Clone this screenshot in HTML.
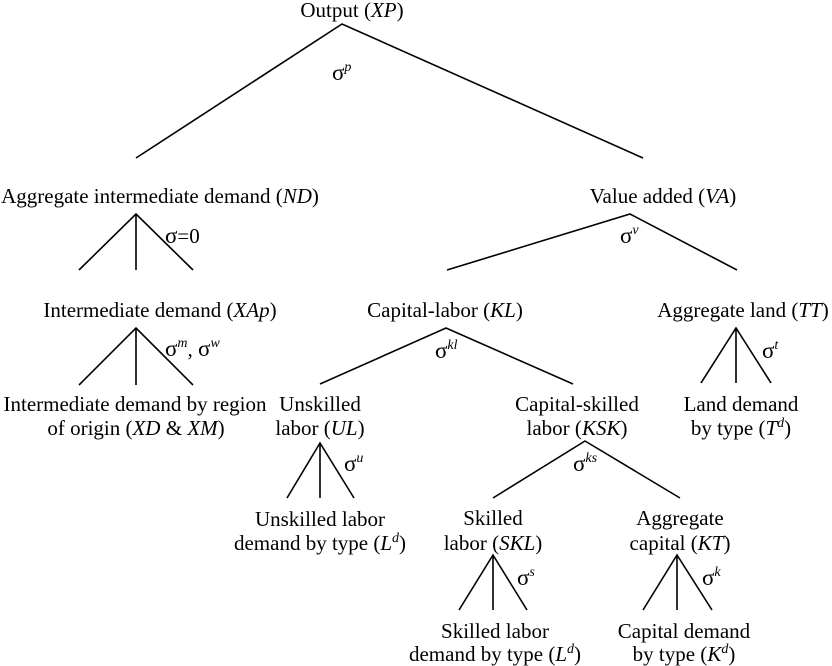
<!DOCTYPE html>
<html><head><meta charset="utf-8"><style>
html,body{margin:0;padding:0;background:#fff}
svg{display:block}
svg text, svg tspan{font-family:"Liberation Serif","Times New Roman",serif}
text{font-size:21px;fill:#000}
.s{font-size:14px}
.g{font-size:23px}
</style></head><body>
<svg width="832" height="666" viewBox="0 0 832 666" xmlns="http://www.w3.org/2000/svg" font-family="Liberation Serif, serif">
<g stroke="#000" stroke-width="1.6" fill="none">
<path d="M136,158 L342,24 L643,158"/>
<path d="M79,270 L136,214 L193,270 M136,214 L136,270"/>
<path d="M447,270 L630,214 L737,270"/>
<path d="M79,385 L136,328 L193,385 M136,328 L136,385"/>
<path d="M320,384 L446,328 L573,384"/>
<path d="M701,383 L736,328 L771,383 M736,328 L736,383"/>
<path d="M287,498 L320,443 L354,498 M320,443 L320,498"/>
<path d="M493,498 L585,441 L680,498"/>
<path d="M459,610 L493,555 L527,610 M493,555 L493,610"/>
<path d="M643,610 L677,555 L712,610 M677,555 L677,610"/>
</g>
<g text-anchor="middle" font-family="Liberation Serif, serif">
<text x="352" y="17">Output (<tspan font-style="italic">XP</tspan>)</text>
<text x="160" y="203">Aggregate intermediate demand (<tspan font-style="italic">ND</tspan>)</text>
<text x="663" y="203">Value added (<tspan font-style="italic">VA</tspan>)</text>
<text x="160" y="317">Intermediate demand (<tspan font-style="italic">XAp</tspan>)</text>
<text x="445" y="317">Capital-labor (<tspan font-style="italic">KL</tspan>)</text>
<text x="743" y="317">Aggregate land (<tspan font-style="italic">TT</tspan>)</text>
<text x="135" y="411">Intermediate demand by region</text>
<text x="136" y="435">of origin (<tspan font-style="italic">XD</tspan> &amp; <tspan font-style="italic">XM</tspan>)</text>
<text x="320" y="411">Unskilled</text>
<text x="320" y="435">labor (<tspan font-style="italic">UL</tspan>)</text>
<text x="577" y="411">Capital-skilled</text>
<text x="577" y="435">labor (<tspan font-style="italic">KSK</tspan>)</text>
<text x="741" y="411">Land demand</text>
<text x="741" y="435">by type (<tspan font-style="italic">T</tspan><tspan class="s" font-style="italic" dy="-8">d</tspan><tspan dy="8">)</tspan></text>
<text x="320" y="526">Unskilled labor</text>
<text x="320" y="550">demand by type (<tspan font-style="italic">L</tspan><tspan class="s" font-style="italic" dy="-8">d</tspan><tspan dy="8">)</tspan></text>
<text x="493" y="525">Skilled</text>
<text x="493" y="550">labor (<tspan font-style="italic">SKL</tspan>)</text>
<text x="680" y="525">Aggregate</text>
<text x="680" y="550">capital (<tspan font-style="italic">KT</tspan>)</text>
<text x="495" y="638">Skilled labor</text>
<text x="495" y="661">demand by type (<tspan font-style="italic">L</tspan><tspan class="s" font-style="italic" dy="-8">d</tspan><tspan dy="8">)</tspan></text>
<text x="684" y="638">Capital demand</text>
<text x="684" y="661">by type (<tspan font-style="italic">K</tspan><tspan class="s" font-style="italic" dy="-8">d</tspan><tspan dy="8">)</tspan></text>
</g>
<g font-family="Liberation Serif, serif">
<text class="g" x="332" y="80">σ<tspan class="s" font-style="italic" dy="-9">p</tspan></text>
<text x="165" y="243"><tspan class="g">σ</tspan>=0</text>
<text class="g" x="620" y="243">σ<tspan class="s" font-style="italic" dy="-9">v</tspan></text>
<text x="165" y="356"><tspan class="g">σ</tspan><tspan class="s" font-style="italic" dy="-9">m</tspan><tspan dy="9">, </tspan><tspan class="g">σ</tspan><tspan class="s" font-style="italic" dy="-9">w</tspan></text>
<text class="g" x="435" y="358">σ<tspan class="s" font-style="italic" dy="-9">kl</tspan></text>
<text class="g" x="762" y="358">σ<tspan class="s" font-style="italic" dy="-9">t</tspan></text>
<text class="g" x="344" y="471">σ<tspan class="s" font-style="italic" dy="-9">u</tspan></text>
<text class="g" x="573" y="471">σ<tspan class="s" font-style="italic" dy="-9">ks</tspan></text>
<text class="g" x="517" y="585">σ<tspan class="s" font-style="italic" dy="-9">s</tspan></text>
<text class="g" x="702" y="585">σ<tspan class="s" font-style="italic" dy="-9">k</tspan></text>
</g>
</svg>
</body></html>
